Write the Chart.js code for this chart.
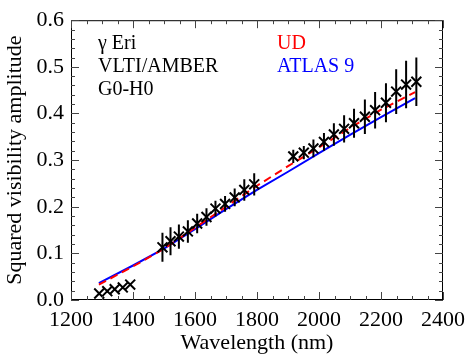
<!DOCTYPE html>
<html>
<head>
<meta charset="utf-8">
<script src="https://cdn.jsdelivr.net/npm/chart.js@4/dist/chart.umd.min.js"></script>
<style>
html,body{margin:0;padding:0;background:#fff;}
canvas{display:block;}
</style>
</head>
<body>
<canvas id="c" width="472" height="354"></canvas>
<script>
// Measured squared visibilities
const wavelength = [1291, 1317, 1341, 1367, 1391,
  1495, 1521, 1548, 1577, 1607, 1637, 1666, 1697, 1728, 1759, 1791,
  1917, 1951, 1982, 2016, 2048, 2081, 2113, 2148, 2181, 2216, 2249, 2281, 2314];
const visibility = [0.014, 0.019, 0.023, 0.027, 0.033,
  0.113, 0.126, 0.136, 0.147, 0.164, 0.178, 0.196, 0.206, 0.220, 0.236, 0.248,
  0.308, 0.316, 0.325, 0.339, 0.355, 0.367, 0.379, 0.393, 0.407, 0.423, 0.447, 0.462, 0.468];
const visError = [0.003, 0.003, 0.003, 0.003, 0.003,
  0.031, 0.030, 0.026, 0.024, 0.021, 0.019, 0.017, 0.017, 0.019, 0.023, 0.024,
  0.014, 0.014, 0.019, 0.019, 0.024, 0.029, 0.031, 0.037, 0.039, 0.042, 0.048, 0.051, 0.052];

// Model curves
const modelWavelength = [1290, 1400, 1500, 1600, 1700, 1800, 1900, 2000, 2100, 2200, 2310];
const udModel    = [0.033, 0.072, 0.110, 0.155, 0.200, 0.245, 0.287, 0.327, 0.369, 0.408, 0.446];
const atlasModel = [0.036, 0.074, 0.110, 0.152, 0.195, 0.236, 0.275, 0.315, 0.354, 0.392, 0.433];

const xTicks = [1200, 1400, 1600, 1800, 2000, 2200, 2400];
const yTicks = [0.0, 0.1, 0.2, 0.3, 0.4, 0.5, 0.6];

const serif = "'Liberation Serif', 'Times New Roman', serif";

const pts = (xs, ys) => xs.map((x, i) => ({x: x, y: ys[i]}));

const framePlugin = {
  id: 'frame',
  afterDatasetsDraw(chart) {
    const {ctx, chartArea: a, scales: {x, y}} = chart;
    ctx.save();
    // error bars
    ctx.strokeStyle = '#000';
    ctx.lineWidth = 2;
    ctx.beginPath();
    wavelength.forEach((w, i) => {
      const px = x.getPixelForValue(w);
      ctx.moveTo(px, y.getPixelForValue(visibility[i] - visError[i]));
      ctx.lineTo(px, y.getPixelForValue(visibility[i] + visError[i]));
    });
    ctx.stroke();
    // frame
    ctx.lineWidth = 1;
    ctx.strokeStyle = '#000';
    ctx.strokeRect(a.left + 0.5, a.top + 0.5, a.right - a.left - 1, a.bottom - a.top - 1);
    ctx.strokeStyle = '#444';
    ctx.beginPath();
    for (let v = 1200; v <= 2400; v += 50) {
      const px = Math.round(x.getPixelForValue(v)) + 0.5;
      const len = (v % 200 === 0) ? 8 : 4;
      ctx.moveTo(px, a.bottom); ctx.lineTo(px, a.bottom - len);
      ctx.moveTo(px, a.top); ctx.lineTo(px, a.top + len);
    }
    for (let k = 0; k <= 30; k++) {
      const v = k * 0.02;
      const py = Math.round(y.getPixelForValue(v)) + 0.5;
      const len = (k % 5 === 0) ? 8 : 4;
      ctx.moveTo(a.left, py); ctx.lineTo(a.left + len, py);
      ctx.moveTo(a.right, py); ctx.lineTo(a.right - len, py);
    }
    ctx.stroke();
    // annotations
    ctx.font = '20px ' + serif;
    ctx.textBaseline = 'middle';
    ctx.textAlign = 'left';
    ctx.fillStyle = '#000';
    ctx.fillText('\u03b3 Eri', 98, 44);
    ctx.fillText('VLTI/AMBER', 98, 67);
    ctx.fillText('G0-H0', 98, 90);
    ctx.fillStyle = '#ff0000';
    ctx.fillText('UD', 277, 44);
    ctx.fillStyle = '#0000ff';
    ctx.fillText('ATLAS 9', 277, 67);
    ctx.restore();
  }
};

new Chart(document.getElementById('c'), {
  type: 'scatter',
  data: {
    datasets: [
      {
        label: 'data',
        data: pts(wavelength, visibility),
        showLine: false,
        pointStyle: 'crossRot',
        pointRadius: 7,
        pointBorderWidth: 2,
        borderColor: '#000',
        backgroundColor: '#000',
        order: 0
      },
      {
        label: 'UD',
        data: pts(modelWavelength, udModel),
        showLine: true,
        borderColor: '#ff0000',
        borderWidth: 2,
        borderDash: [8, 5],
        pointRadius: 0,
        tension: 0,
        order: 1
      },
      {
        label: 'ATLAS 9',
        data: pts(modelWavelength, atlasModel),
        showLine: true,
        borderColor: '#0000ff',
        borderWidth: 2,
        pointRadius: 0,
        tension: 0,
        order: 2
      }
    ]
  },
  options: {
    responsive: false,
    animation: false,
    layout: {padding: {left: 0, top: 14, right: 19, bottom: 0}},
    plugins: {legend: {display: false}, tooltip: {enabled: false}},
    scales: {
      x: {
        type: 'linear',
        min: 1200, max: 2400,
        afterBuildTicks(s) { s.ticks = xTicks.map(v => ({value: v})); },
        afterFit(s) { s.height = 54; },
        grid: {display: false, drawTicks: false},
        border: {display: false},
        ticks: {
          padding: 7,
          color: '#000',
          font: {family: serif, size: 22},
          maxRotation: 0,
          callback: v => String(v)
        },
        title: {
          display: true,
          text: 'Wavelength (nm)',
          color: '#000',
          font: {family: serif, size: 22, lineHeight: 1},
          padding: {top: 0, bottom: 0}
        }
      },
      y: {
        type: 'linear',
        min: 0, max: 0.6,
        afterBuildTicks(s) { s.ticks = yTicks.map(v => ({value: v})); },
        afterFit(s) { s.width = 71; },
        grid: {display: false, drawTicks: false},
        border: {display: false},
        ticks: {
          padding: 7,
          color: '#000',
          font: {family: serif, size: 22},
          callback: v => Number(v).toFixed(1)
        },
        title: {
          display: true,
          text: 'Squared visibility amplitude',
          color: '#000',
          font: {family: serif, size: 22, lineHeight: 1.2},
          padding: {top: 2, bottom: 0}
        }
      }
    }
  },
  plugins: [framePlugin]
});
</script>
</body>
</html>
